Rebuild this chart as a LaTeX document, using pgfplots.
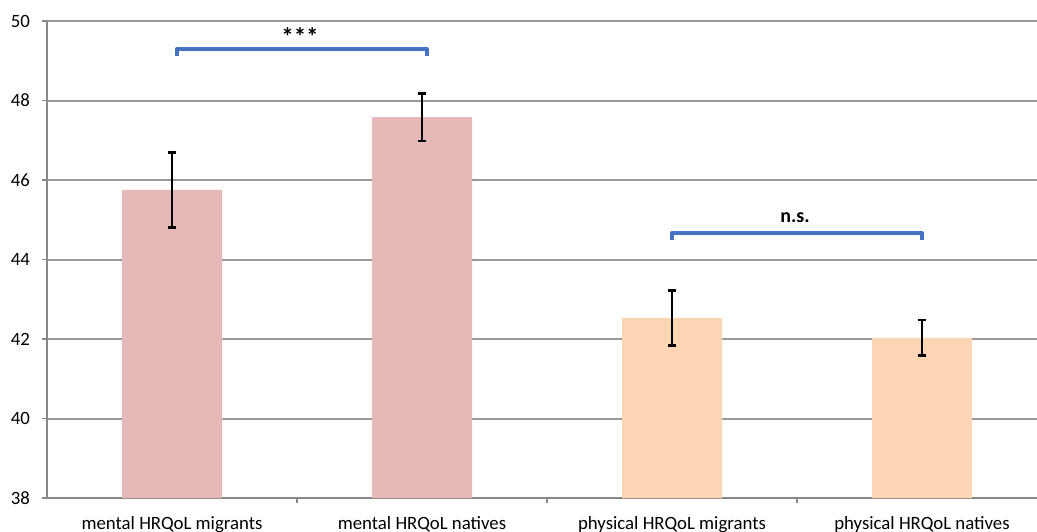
\documentclass[border=0pt]{standalone}
\usepackage{fontspec}
\setmainfont{Carlito}
\usepackage{pgfplots}
\pgfplotsset{compat=1.18}
\definecolor{mentalc}{HTML}{E6B9B8}
\definecolor{physc}{HTML}{FCD5B5}
\definecolor{gridc}{HTML}{999999}
\definecolor{axc}{HTML}{888888}
\definecolor{brk}{HTML}{4472C4}
\begin{document}
\begin{tikzpicture}
\begin{axis}[
  scale only axis,
  width=495pt, height=238.5pt,
  xmin=-0.5, xmax=3.46,
  ymin=38, ymax=50,
  ytick={38,40,...,50},
  xtick={0,1,2,3},
  xticklabels={mental HRQoL migrants, mental HRQoL natives, physical HRQoL migrants, physical HRQoL natives},
  minor xtick={0.5,1.5,2.5},
  axis x line=bottom, axis y line=left,
  axis line style={draw=axc, line width=1pt, -},
  tick align=outside,
  major tick length=2.5pt,
  minor tick length=2.5pt,
  x tick style={draw=none},
  minor x tick style={draw=axc, line width=0.8pt},
  y tick style={draw=axc, line width=0.8pt},
  ymajorgrids,
  grid style={draw=gridc, line width=1pt},
  ybar, bar shift=0pt, bar width=0.4,
  ticklabel style={font=\fontsize{9.4}{11}\selectfont, text=black},
  /pgf/number format/assume math mode=true,
  yticklabel style={xshift=-2.5pt},
  xticklabel style={yshift=-3pt},
  clip=false,
]
\addplot[fill=mentalc, draw=none,
  error bars/.cd, y dir=both, y explicit,
  error bar style={black, line width=1.4pt},
  error mark options={black, rotate=90, mark size=2.2pt, line width=1.4pt}]
  coordinates {(0,45.75) +- (0,0.94) (1,47.58) +- (0,0.6)};
\addplot[fill=physc, draw=none,
  error bars/.cd, y dir=both, y explicit,
  error bar style={black, line width=1.4pt},
  error mark options={black, rotate=90, mark size=2.2pt, line width=1.4pt}]
  coordinates {(2,42.53) +- (0,0.69) (3,42.03) +- (0,0.45)};
\addplot[sharp plot, draw=brk, line width=2pt, fill=none, line join=round]
  coordinates {(0.02,49.13) (0.02,49.30) (1.02,49.30) (1.02,49.13)};
\addplot[sharp plot, draw=brk, line width=2pt, fill=none, line join=round]
  coordinates {(2.0,44.50) (2.0,44.66) (3.0,44.66) (3.0,44.50)};
\node[anchor=base, font=\fontsize{12.5}{14}\selectfont\bfseries] at (axis cs:0.512,49.38) {***};
\node[anchor=base, font=\fontsize{10}{12}\selectfont\bfseries] at (axis cs:2.492,44.93) {n.s.};
\end{axis}
\pgfresetboundingbox
\path (current axis.south west) ++(-23.5pt,-16.5pt) rectangle ++(518.5pt,265.5pt);
\end{tikzpicture}
\end{document}
